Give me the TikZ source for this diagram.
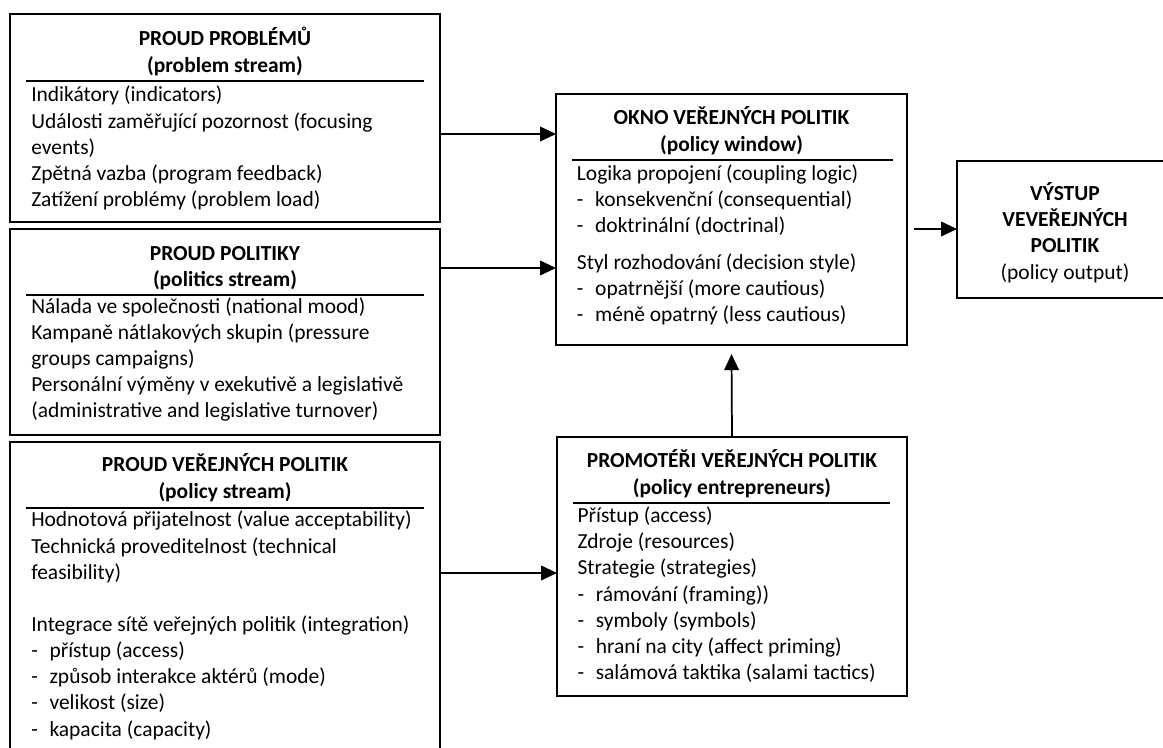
\documentclass[tikz,border=0pt]{standalone}
\usepackage{fontspec}
\setmainfont{Carlito}
\usetikzlibrary{arrows.meta,fit}

\tikzset{
  frame/.style={draw, line width=1.6pt, inner sep=0pt},
  head/.style={font=\fontsize{16.1}{19.6}\selectfont\bfseries, align=center, inner sep=0pt},
  body/.style={font=\fontsize{16.1}{19.6}\selectfont, align=left, inner sep=0pt},
  seprule/.style={line width=1.5pt},
  arr/.style={line width=1.3pt, -{Triangle[length=12pt,width=11pt]}}
}
\newcommand{\dashitem}[1]{\makebox[13.7pt][l]{-}#1}

\begin{document}
\begin{tikzpicture}[x=0.75pt,y=-0.75pt]
\useasboundingbox (0,0) rectangle (1163,747);
\clip (0,0) rectangle (1163,747);

% problem stream (base = last line)
\node[frame, fit={(10,14) (440,222)}] (prob) {};
\node[head, anchor=base] (probT) at (225,72) {PROUD PROBLÉMŮ\\(problem stream)};
\draw[seprule] (26,80.7) -- (424,80.7);
\node[body, anchor=base west] (probB) at (31,206.5) {Indikátory (indicators)\\
  Události zaměřující pozornost (focusing\\ events)\\
  Zpětná vazba (program feedback)\\
  Zatížení problémy (problem load)};

% politics stream
\node[frame, fit={(10,229) (440,435)}] (polit) {};
\node[head, anchor=base] (politT) at (225,286.5) {PROUD POLITIKY\\(politics stream)};
\draw[seprule] (26,295) -- (424,295);
\node[body, anchor=base west] (politB) at (31,417.6) {Nálada ve společnosti (national mood)\\
  Kampaně nátlakových skupin (pressure\\ groups campaigns)\\
  Personální výměny v exekutivě a legislativě\\
  (administrative and legislative turnover)};

% policy stream
\node[frame, fit={(10,442) (440,780)}] (pol) {};
\node[head, anchor=base] (polT) at (225,498) {PROUD VEŘEJNÝCH POLITIK\\(policy stream)};
\draw[seprule] (26,508) -- (424,508);
\node[body, anchor=base west] (polB) at (31,736) {Hodnotová přijatelnost (value acceptability)\\
  Technická proveditelnost (technical\\ feasibility)\\[19.6pt]
  Integrace sítě veřejných politik (integration)\\
  \dashitem{přístup (access)}\\
  \dashitem{způsob interakce aktérů (mode)}\\
  \dashitem{velikost (size)}\\
  \dashitem{kapacita (capacity)}};

% policy window
\node[frame, fit={(556,94) (907,345)}] (win) {};
\node[head, anchor=base] (winT) at (731.5,151) {OKNO VEŘEJNÝCH POLITIK\\(policy window)};
\draw[seprule] (572,160) -- (893,160);
\node[body, anchor=base west] (winB) at (576.7,321.7) {Logika propojení (coupling logic)\\
  \dashitem{konsekvenční (consequential)}\\
  \dashitem{doktrinální (doctrinal)}\\[8pt]
  Styl rozhodování (decision style)\\
  \dashitem{opatrnější (more cautious)}\\
  \dashitem{méně opatrný (less cautious)}};

% policy entrepreneurs
\node[frame, fit={(557,437) (907,696)}] (ent) {};
\node[head, anchor=base] (entT) at (732,494) {PROMOTÉŘI VEŘEJNÝCH POLITIK\\(policy entrepreneurs)};
\draw[seprule] (573,503) -- (890,503);
\node[body, anchor=base west] (entB) at (577.3,679.5) {Přístup (access)\\
  Zdroje (resources)\\
  Strategie (strategies)\\
  \dashitem{rámování (framing))}\\
  \dashitem{symboly (symbols)}\\
  \dashitem{hraní na city (affect priming)}\\
  \dashitem{salámová taktika (salami tactics)}};

% policy output
\node[frame, fit={(957,161) (1173,298)}] (out) {};
\node[body, align=center, anchor=base] (outT) at (1065,279) {\textbf{VÝSTUP}\\\textbf{VEVEŘEJNÝCH}\\\textbf{POLITIK}\\(policy output)};

% arrows
\coordinate (in1) at (556,134);
\coordinate (in2) at (556,268);
\coordinate (in3) at (557,573);
\coordinate (in4) at (957,229);
\draw[arr] (prob.east |- in1) -- (in1);
\draw[arr] (polit.east |- in2) -- (in2);
\draw[arr] (pol.east |- in3) -- (in3);
\draw[arr] (ent.north) -- ([yshift=-6pt]win.south);
\draw[arr] ([xshift=4.5pt]win.east |- in4) -- (in4);

\end{tikzpicture}
\end{document}
